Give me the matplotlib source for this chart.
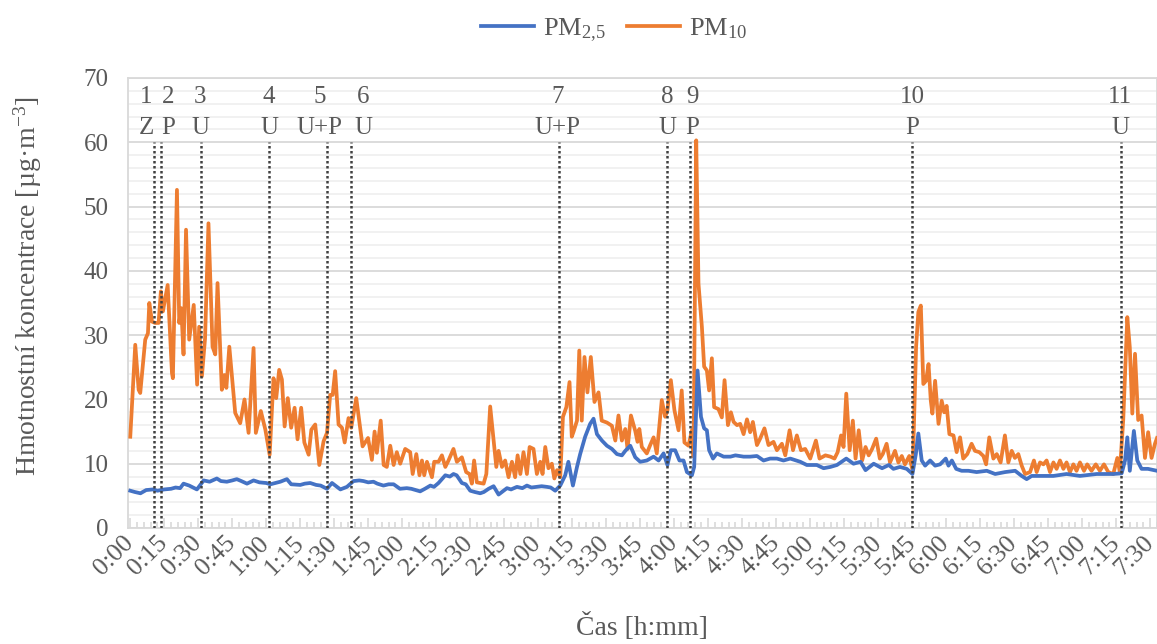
import matplotlib
matplotlib.use("Agg")
import matplotlib.pyplot as plt
from matplotlib.ticker import MultipleLocator, FuncFormatter

plt.rcParams['font.family'] = ['Liberation Serif', 'DejaVu Serif']
plt.rcParams['mathtext.fontset'] = 'custom'
plt.rcParams['mathtext.rm'] = 'Liberation Serif'
plt.rcParams['mathtext.it'] = 'Liberation Serif:italic'

# PM10 readings: time [min], concentration [ug/m3]
t_pm10 = [0, 2.2, 3.7, 4.4, 6.6, 7.8, 8.4, 9.6, 11.0, 12.5, 13.5, 14.4, 16.5, 18.4, 18.8,
          20.6, 21.6, 22.5, 23.5, 24.6, 26.0, 28.0, 29.5, 30.4, 31.6, 33.0, 34.5, 36.3, 37.5,
          38.5, 40.4, 41.5, 42.4, 43.7, 46.3, 48.5, 50.4, 52.2, 54.4, 55.4, 57.6, 59.6, 61.5,
          63.2, 64.4, 65.7, 66.9, 68.1, 69.5, 71.0, 72.5, 73.8, 75.4, 76.8, 78.7, 79.9, 81.6,
          83.4, 85.3, 86.8, 88.2, 89.3, 90.4, 91.9, 93.4, 94.6, 96.3, 97.5, 99.7, 102.5, 104.9,
          106.6, 107.8, 108.8, 110.5, 111.8, 113.2, 114.7, 116.2, 117.6, 119.1, 121.3, 123.5,
          124.6, 126.2, 127.6, 128.7, 129.7, 130.9, 133.1, 134.1, 136.0, 137.5, 139.0, 140.4,
          142.6, 144.1, 146.3, 148.2, 149.7, 150.7, 151.7, 152.9, 155.9, 157.1, 158.8, 160.3,
          161.5, 162.5, 164.0, 165.4, 166.9, 168.4, 169.8, 170.9, 172.1, 173.5, 175.0, 176.2,
          177.9, 179.4, 180.9, 181.9, 183.1, 184.5, 186.0, 187.1, 188.3, 189.7, 190.9, 192.4,
          193.8, 194.8, 195.6, 197.1, 198.1, 199.2, 200.4, 201.7, 203.2, 204.8, 206.6, 208.0,
          210.3, 212.5, 214.0, 215.4, 216.9, 218.4, 219.4, 220.9, 222.8, 223.8, 224.6, 225.7,
          227.9, 229.4, 230.9, 232.3, 234.5, 236.0, 237.0, 238.5, 240.1, 241.9, 243.3, 244.5,
          246.3, 247.8, 248.5, 249.7, 250.7, 252.2, 253.2, 254.4, 255.4, 256.6, 257.6, 259.5,
          261.0, 262.2, 263.7, 265.0, 266.2, 267.7, 269.1, 270.6, 272.1, 273.5, 274.7, 276.5,
          277.9, 279.8, 281.6, 283.8, 285.3, 287.5, 289.0, 290.9, 292.4, 294.1, 295.9, 297.8,
          300.0, 302.5, 304.1, 306.7, 308.9, 310.7, 312.1, 313.6, 314.7, 315.9, 317.4, 318.8,
          320.0, 321.4, 322.9, 324.4, 325.8, 327.3, 329.1, 330.7, 332.0, 333.7, 335.2, 337.4,
          338.9, 340.4, 341.8, 343.7, 345.2, 346.7, 347.7, 348.8, 349.9, 351.1, 352.2, 353.2,
          353.9, 355.1, 356.6, 358.0, 359.1, 360.2, 361.4, 363.2, 364.6, 366.1, 367.5, 369.3,
          371.2, 372.7, 374.6, 376.4, 377.6, 379.0, 380.8, 382.3, 384.0, 385.9, 387.4, 388.9,
          390.3, 391.8, 393.3, 394.8, 397.0, 398.7, 399.9, 401.4, 402.9, 404.3, 405.8, 407.3,
          408.7, 410.2, 411.7, 413.1, 414.6, 416.1, 417.5, 419.0, 420.8, 422.2, 424.1, 426.0,
          427.8, 429.6, 431.5, 433.7, 435.5, 436.6, 438.1, 439.9, 441.0, 442.1, 443.3, 444.7,
          446.2, 447.7, 449.1, 450.6, 452.1, 453.0]
pm10 = [14.2, 28.5, 21.5, 21.0, 29.3, 30.3, 35.0, 32.1, 31.9, 31.9, 36.8, 33.7, 37.8, 24.1, 23.3,
        52.6, 31.9, 34.2, 27.0, 46.4, 29.3, 34.7, 22.3, 31.3, 23.6, 29.5, 47.4, 28.2, 27.0,
        38.1, 21.5, 23.8, 21.8, 28.2, 17.9, 16.3, 20.0, 14.8, 28.0, 14.8, 18.2, 15.3, 11.4,
        23.3, 20.2, 24.6, 23.1, 15.8, 20.2, 15.6, 18.7, 13.8, 18.7, 13.3, 11.4, 15.3, 16.1,
        9.8, 13.5, 14.8, 20.7, 20.7, 24.4, 16.1, 15.6, 13.3, 17.1, 15.6, 20.2, 12.7, 14.0,
        10.6, 15.0, 11.7, 16.7, 9.8, 9.5, 12.8, 9.8, 11.8, 10.0, 12.3, 11.8,
        8.4, 11.5, 8.2, 10.5, 8.2, 10.3, 7.9, 10.3, 10.3, 11.3, 9.5, 10.5,
        12.3, 10.3, 11.0, 8.7, 8.4, 6.9, 10.5, 7.1, 6.9, 8.4, 18.9, 13.6,
        9.5, 12.0, 9.5, 10.5, 7.9, 10.3, 7.9, 11.3, 8.4, 11.8, 8.4, 12.6,
        12.3, 8.4, 10.3, 8.4, 12.6, 9.3, 10.0, 7.7, 9.0, 7.9, 17.3, 18.8,
        22.7, 14.2, 15.0, 16.7, 27.6, 16.7, 26.6, 21.1, 26.6, 19.6, 21.1, 16.7,
        16.4, 15.9, 13.6, 17.5, 13.6, 15.4, 12.3, 17.5, 15.1, 13.4, 15.4, 12.6,
        11.6, 12.9, 14.1, 11.6, 19.9, 17.3, 18.3, 23.0, 18.3, 15.2, 21.4, 13.3,
        12.8, 15.2, 11.1, 60.3, 38.0, 31.3, 25.1, 24.5, 21.4, 26.4, 18.8, 18.5,
        17.2, 23.0, 16.0, 18.0, 16.5, 16.0, 16.2, 14.6, 16.9, 14.9, 16.5, 12.9,
        13.9, 15.5, 12.9, 13.4, 12.1, 13.1, 11.3, 15.2, 12.1, 14.4, 12.1, 12.3,
        10.8, 13.6, 10.8, 11.3, 11.1, 10.8, 11.8, 14.4, 12.6, 20.9, 12.1, 16.7,
        10.8, 15.2, 10.5, 12.6, 11.3, 12.3, 13.9, 10.8, 11.5, 13.1, 10.2, 12.0,
        10.2, 11.2, 9.9, 11.2, 8.9, 28.1, 33.6, 34.6, 22.4, 22.9, 25.5, 19.8,
        17.8, 22.9, 16.2, 19.8, 18.0, 19.0, 14.6, 14.4, 11.8, 14.1, 10.8, 11.5,
        13.1, 12.0, 11.8, 11.2, 9.9, 14.1, 10.8, 11.5, 10.2, 14.4, 10.2, 12.0,
        10.9, 11.5, 9.7, 8.4, 8.7, 10.5, 8.7, 10.2, 9.9, 10.5, 8.7, 10.2,
        9.2, 10.5, 9.2, 10.2, 8.7, 9.9, 8.9, 10.2, 8.9, 9.9, 8.9, 9.9,
        8.9, 9.9, 8.7, 8.4, 10.9, 8.7, 16.8, 32.8, 28.1, 17.8, 27.1, 16.8,
        17.5, 10.9, 14.9, 10.9, 13.1, 14.0]

# PM2.5 readings
t_pm25 = [0, 2, 4.5, 7, 10, 12, 15, 18, 20, 22, 23.5, 26, 29.4, 32.4, 35, 38.2, 40, 42.6, 45,
          47, 49, 51.5, 54.4, 57, 60, 61.8, 64, 66.2, 69.1, 71, 75, 77, 79.4, 82, 84, 86.8, 89,
          92.7, 95.6, 98.5, 101, 102.9, 105, 107.3, 109, 111.7, 114, 116.2, 119, 122, 124,
          127.9, 130, 132.4, 134, 136, 139, 141, 142.6, 144, 146.3, 148, 150, 152, 154.4, 156,
          158.1, 160.3, 162.5, 164, 166.2, 168, 170.6, 173, 175, 177, 179.4, 181.5, 183.8,
          185.5, 187.5, 189.7, 191.9, 193.3, 195.3, 197.1, 198.5, 200.7, 202.9, 204.4, 205.9,
          208.1, 210.3, 212.5, 214.7, 216.9, 218.4, 220.6, 222.8, 225, 227.9, 230.9, 233.1,
          235.3, 237, 238.5, 240.4, 242.3, 244.1, 245.6, 247.8, 248.8, 250.3, 251.8, 253.2,
          254.4, 255.4, 257.1, 258.8, 261.8, 264.8, 267, 270.6, 273.5, 276.5, 279.4, 282.3,
          285.3, 288.2, 291.2, 295.6, 298.5, 302.9, 305.9, 308.9, 311.8, 315.9, 319.1, 322.2,
          324.4, 328, 331.7, 334.7, 336.7, 339.6, 342.6, 345.1, 346.6, 347.7, 349.2, 350.7,
          352.9, 355.1, 357.3, 359.8, 361, 362.5, 364.4, 366.8, 369.8, 373.4, 377.9, 381.6,
          386, 390.4, 393.3, 395.5, 397.7, 401.4, 407.3, 413.1, 419, 426.4, 433.7, 437.4,
          438.9, 439.9, 441, 442.8, 444.3, 446.2, 449, 453]
pm25 = [5.8, 5.6, 5.4, 5.9, 6.0, 5.8, 6.0, 6.1, 6.3, 6.2, 6.9, 6.6, 6.0, 7.4, 7.2, 7.7, 7.3, 7.2, 7.4,
        7.6, 7.3, 6.9, 7.4, 7.1, 7.0, 6.8, 7.0, 7.2, 7.6, 6.8, 6.7, 6.9, 7.0, 6.7, 6.6, 6.1, 7.0,
        6.0, 6.4, 7.3, 7.4, 7.3, 7.1, 7.2, 6.9, 6.6, 6.8, 6.8, 6.1, 6.2, 6.1,
        5.7, 6.1, 6.6, 6.4, 7.0, 8.2, 8.0, 8.4, 8.2, 7.0, 6.8, 5.8, 5.6, 5.4, 5.6,
        6.1, 6.5, 5.2, 5.6, 6.2, 6.0, 6.4, 6.2, 6.6, 6.3, 6.4, 6.5, 6.4,
        6.3, 5.8, 6.6, 8.2, 10.3, 6.6, 9.5, 11.5, 14.2, 16.2, 17.0, 14.6,
        13.6, 12.8, 12.3, 11.5, 11.3, 12.0, 12.8, 11.0, 10.3, 10.5, 11.1, 10.5,
        11.6, 9.8, 12.1, 12.1, 10.5, 10.5, 8.7, 8.2, 9.5, 24.5, 17.3, 15.5,
        15.2, 12.1, 10.8, 11.6, 11.1, 11.1, 11.3, 11.1, 11.1, 11.2, 10.5, 10.8,
        10.8, 10.5, 10.8, 10.3, 9.8, 9.8, 9.3, 9.5, 9.8, 10.8, 10.0, 10.3,
        9.0, 10.0, 9.3, 9.8, 9.2, 9.5, 9.2, 8.4, 11.5, 14.7, 10.5, 9.7,
        10.5, 9.7, 9.9, 10.8, 9.7, 10.5, 9.2, 8.9, 8.9, 8.7, 8.9, 8.4,
        8.7, 8.9, 8.1, 7.6, 8.1, 8.1, 8.1, 8.4, 8.1, 8.4, 8.4, 8.5,
        10.5, 14.1, 8.9, 15.1, 10.5, 9.2, 9.2, 8.9]

# events: time [min], number, type
event_t = [10.6, 13.5, 31.3, 61.3, 86.9, 97.5, 189.2, 237.0, 247.1, 345.0, 437.1]
event_num = ['1', '2', '3', '4', '5', '6', '7', '8', '9', '10', '11']
event_type = ['Z', 'P', 'U', 'U', 'U+P', 'U', 'U+P', 'U', 'P', 'P', 'U']
label_t = [7.1, 16.8, 30.9, 61.3, 83.4, 102.8, 188.4, 236.9, 247.9, 345.0, 436.7]

text_col = '#595959'
fig = plt.figure(figsize=(11.57, 6.44), dpi=100)
ax = fig.add_axes([128 / 1157, 1 - 528 / 644, 1 - 128 / 1157, 450 / 644])

ax.set_ylim(0, 70)
ax.set_xlim(-1, 453)
ax.yaxis.set_major_locator(MultipleLocator(10))
ax.yaxis.set_minor_locator(MultipleLocator(2))
ax.xaxis.set_major_locator(MultipleLocator(15))
ax.xaxis.set_minor_locator(MultipleLocator(3))
ax.xaxis.set_major_formatter(FuncFormatter(lambda v, p: '%d:%02d' % (int(v) // 60, int(v) % 60)))
ax.grid(which='major', axis='y', color='#d9d9d9', lw=1.3, zorder=0)
ax.grid(which='minor', axis='y', color='#f0f0f0', lw=1.3, zorder=0)
ax.set_axisbelow(True)
for s in ax.spines.values():
    s.set_color('#d9d9d9')
    s.set_linewidth(1.3)

ax.tick_params(axis='y', which='both', length=0, pad=14, labelsize=18, labelcolor=text_col)
ax.tick_params(axis='x', which='major', direction='in', length=7, width=1.2, color='#d9d9d9',
               labelsize=18.5, labelcolor=text_col, pad=8)
ax.tick_params(axis='x', which='minor', direction='in', length=4, width=1.2, color='#d9d9d9')
for lab in ax.get_xticklabels():
    lab.set_rotation(45)
    lab.set_ha('right')
    lab.set_va('center')
    lab.set_rotation_mode('anchor')

ax.plot(t_pm25, pm25, color='#4472C4', lw=2.7, label='PM$_{2{,}5}$', zorder=4)
ax.plot(t_pm10, pm10, color='#ED7D31', lw=2.7, label='PM$_{10}$', zorder=3)

for t in event_t:
    ax.plot([t, t], [0, 60], color='#404040', lw=1.8, ls=(0, (1, 1)), zorder=5)
for t, n, k in zip(label_t, event_num, event_type):
    ax.text(t, 67.0, n, ha='center', va='center', fontsize=18, color=text_col)
    ax.text(t, 62.2, k, ha='center', va='center', fontsize=18, color=text_col)

fig.text(0.024, 0.556, 'Hmotnostní koncentrace [µg·m$^{-3}$]', rotation=90,
         ha='center', va='center', fontsize=20, color=text_col)
fig.text(642 / 1157, 0.027, 'Čas [h:mm]', ha='center', va='center', fontsize=20, color=text_col)
fig.legend(loc='center', bbox_to_anchor=(0.531, 0.953), ncol=2, frameon=False,
           fontsize=19, handlelength=2.0, handletextpad=0.35, columnspacing=0.8,
           labelcolor=text_col)

fig.savefig('out.png', dpi=100)
